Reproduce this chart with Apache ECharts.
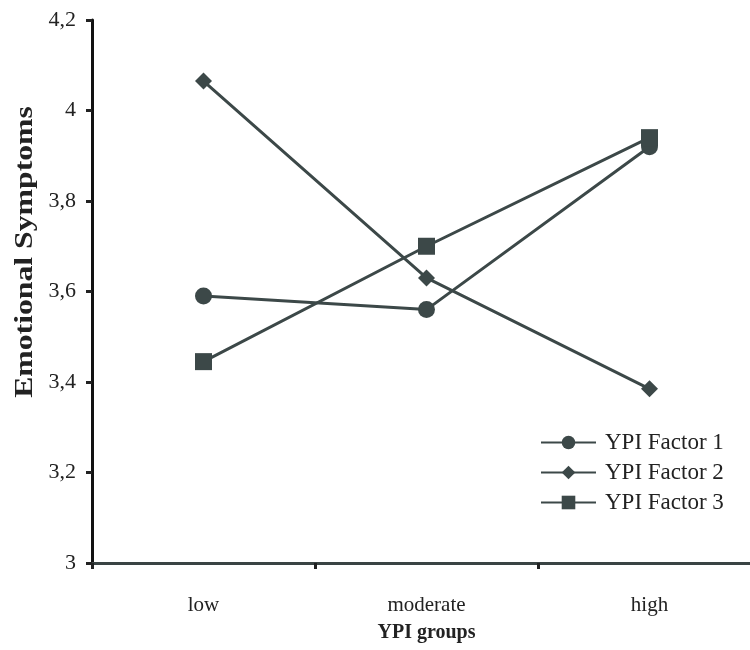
<!DOCTYPE html>
<html>
<head>
<meta charset="utf-8">
<script src="https://cdn.jsdelivr.net/npm/echarts@6/dist/echarts.min.js"></script>
<style>
html,body{margin:0;padding:0;background:#fff;}
#chart{width:750px;height:650px;}
</style>
</head>
<body>
<div id="chart"></div>
<script>
var categories = ['low', 'moderate', 'high'];
var factor1 = [3.59, 3.56, 3.92];
var factor2 = [4.065, 3.63, 3.385];
var factor3 = [3.445, 3.70, 3.94];
var seriesNames = ['YPI Factor 1', 'YPI Factor 2', 'YPI Factor 3'];
var yTitle = 'Emotional Symptoms';
var xTitle = 'YPI groups';

var ink = '#3c4848';
var serif = 'Liberation Serif';

var chart = echarts.init(document.getElementById('chart'));
function mk(name, data, symbol, size) {
  return {
    name: name, type: 'line', data: data,
    symbol: symbol, symbolSize: size,
    lineStyle: {color: ink, width: 3},
    itemStyle: {color: ink},
    animation: false
  };
}
chart.setOption({
  animation: false,
  grid: {left: 92, right: -11, top: 20, bottom: 87, outerBoundsMode: 'none', containLabel: false},
  legend: {
    orient: 'vertical', left: 535, top: 426,
    itemWidth: 55, itemHeight: 17, itemGap: 7,
    textStyle: {fontFamily: serif, fontSize: 23, color: '#222', padding: [0, 0, 0, 4]},
    data: seriesNames
  },
  graphic: [{
    type: 'text', x: 25, y: 252, rotation: Math.PI / 2, scaleX: 1.22,
    style: {
      text: yTitle, fontFamily: serif, fontSize: 26, fontWeight: 'bold',
      fill: '#222', textAlign: 'center', textVerticalAlign: 'middle', verticalAlign: 'middle'
    }
  }],
  xAxis: {
    type: 'category', data: categories, boundaryGap: true,
    name: xTitle, nameLocation: 'middle', nameGap: 60,
    nameTextStyle: {fontFamily: serif, fontSize: 20, fontWeight: 'bold', color: '#222'},
    axisLine: {lineStyle: {color: '#3a4444', width: 3}},
    axisTick: {show: true, length: 6, lineStyle: {color: '#222', width: 3}, interval: 0},
    axisLabel: {fontFamily: serif, fontSize: 21, color: '#222', margin: 32}
  },
  yAxis: {
    type: 'value', min: 3, max: 4.2, interval: 0.2,
    axisLine: {show: true, lineStyle: {color: '#111', width: 3}},
    axisTick: {show: true, length: 6, lineStyle: {color: '#222', width: 3}},
    splitLine: {show: false},
    axisLabel: {
      fontFamily: serif, fontSize: 22, color: '#222', margin: 16,
      formatter: function (v) { return String(Math.round(v * 10) / 10).replace('.', ','); }
    }
  },
  series: [
    mk(seriesNames[0], factor1, 'circle', 17),
    mk(seriesNames[1], factor2, 'diamond', 17),
    mk(seriesNames[2], factor3, 'rect', 17)
  ]
});
</script>
</body>
</html>
